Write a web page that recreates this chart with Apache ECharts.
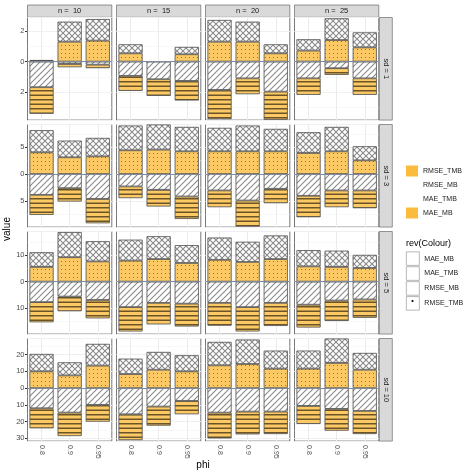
<!DOCTYPE html>
<html>
<head>
<meta charset="utf-8">
<script src="https://cdn.jsdelivr.net/npm/echarts@6/dist/echarts.min.js"></script>
<style>
  html, body { margin: 0; padding: 0; background: #fff; }
  #main { width: 474px; height: 474px; }
</style>
</head>
<body>
<div id="main"></div>
<script>
// facets and categories
var phiLabels = ['0.8', '0.9', '0.95'];
var nLabels = ['n =  10', 'n =  15', 'n =  20', 'n =  25'];
var sdLabels = ['sd = 1', 'sd = 3', 'sd = 5', 'sd = 10'];

// values per [sd row][n column] -> [phi 0.8, 0.9, 0.95], segment heights
var rmseTMB = [
    [[0.05, 1.30, 1.37], [0.54, 0, 0.48], [1.30, 1.30, 0.54], [0.72, 1.41, 0.93]],
    [[4.06, 3.13, 3.31], [4.44, 4.56, 4.25], [4.25, 4.25, 4.25], [3.94, 4.25, 2.56]],
    [[5.6, 9.3, 7.7], [8.0, 8.6, 7.1], [8.3, 7.5, 8.6], [5.8, 5.6, 5.2]],
    [[10.0, 7.6, 13.4], [8.4, 11.0, 10.0], [13.6, 14.4, 11.6], [11.6, 15.0, 11.0]]
];
var rmseMB = [
    [[0.05, 1.31, 1.41], [0.59, 0, 0.48], [1.42, 1.31, 0.59], [0.74, 1.42, 0.98]],
    [[4.13, 3.12, 3.44], [4.62, 4.69, 4.56], [4.38, 4.81, 4.19], [3.87, 4.56, 2.63]],
    [[5.6, 9.6, 7.7], [8.0, 8.7, 6.8], [8.5, 7.7, 9.0], [6.2, 6.2, 5.0]],
    [[10.4, 7.8, 13.0], [9.2, 10.6, 9.6], [14.0, 14.6, 10.8], [10.8, 14.6, 10.0]]
];
var maeTMB = [
    [[1.67, 0.15, 0.20], [0.93, 1.15, 1.26], [1.85, 1.09, 1.96], [1.09, 0.43, 1.09]],
    [[3.88, 2.63, 4.63], [2.31, 2.94, 4.19], [3.06, 4.94, 2.75], [4.06, 3.06, 3.06]],
    [[7.8, 5.7, 7.0], [9.7, 8.1, 8.4], [8.1, 9.7, 8.1], [8.8, 7.2, 6.8]],
    [[12.0, 14.6, 10.0], [15.6, 11.0, 7.6], [14.6, 14.0, 14.0], [10.6, 12.4, 13.6]]
];
var maeMB = [
    [[1.74, 0.22, 0.23], [0.98, 1.09, 1.28], [1.91, 1.04, 1.84], [1.08, 0.44, 1.08]],
    [[3.75, 2.50, 4.56], [2.19, 3.12, 4.19], [3.13, 4.87, 2.69], [4.00, 3.13, 3.32]],
    [[7.7, 5.6, 7.0], [9.3, 8.2, 8.7], [8.7, 9.3, 8.8], [8.7, 7.8, 7.0]],
    [[12.0, 14.0, 10.0], [15.4, 11.4, 8.0], [15.4, 13.6, 13.4], [10.8, 13.0, 13.8]]
];

// y scale per sd row
var yMin = [-3.82, -9.9, -20.0, -31.6];
var yMax = [2.88, 9.25, 19.1, 29.6];
var yMajor = [2, 5, 10, 10];
var yMinor = [1, 2.5, 5, 5];

var FONT = 'Liberation Sans, Arial, sans-serif';

function makePattern(w, h, draw) {
    var c = document.createElement('canvas');
    c.width = w;
    c.height = h;
    draw(c.getContext('2d'), w, h);
    return { image: c, repeat: 'repeat' };
}

var orange = '#FCC964';
var patDots = makePattern(4, 4, function (ctx) {
    ctx.fillStyle = orange; ctx.fillRect(0, 0, 4, 4);
    ctx.fillStyle = '#85764f'; ctx.fillRect(1, 1, 1, 1);
});
var patCross = makePattern(6, 6, function (ctx) {
    ctx.fillStyle = '#fff'; ctx.fillRect(0, 0, 6, 6);
    ctx.strokeStyle = '#8a8a8a'; ctx.lineWidth = 1.1;
    ctx.beginPath();
    ctx.moveTo(-1, -1); ctx.lineTo(7, 7);
    ctx.moveTo(-1, 7); ctx.lineTo(7, -1);
    ctx.stroke();
});
var patDiag = makePattern(6, 6, function (ctx) {
    ctx.fillStyle = '#fff'; ctx.fillRect(0, 0, 6, 6);
    ctx.strokeStyle = '#8a8a8a'; ctx.lineWidth = 1.1;
    ctx.beginPath();
    ctx.moveTo(-1, 7); ctx.lineTo(7, -1);
    ctx.moveTo(-4, 4); ctx.lineTo(4, -4);
    ctx.moveTo(2, 10); ctx.lineTo(10, 2);
    ctx.stroke();
});
var patStripes = makePattern(4, 9, function (ctx) {
    ctx.fillStyle = orange; ctx.fillRect(0, 0, 4, 9);
    ctx.fillStyle = '#6a5428';
    ctx.fillRect(0, 0, 4, 1.5);
    ctx.fillRect(0, 4.5, 4, 1.5);
});

var measures = [
    { name: 'RMSE_TMB', values: rmseTMB, sign: 1, fill: patDots },
    { name: 'RMSE_MB', values: rmseMB, sign: 1, fill: patCross },
    { name: 'MAE_TMB', values: maeTMB, sign: -1, fill: patDiag },
    { name: 'MAE_MB', values: maeMB, sign: -1, fill: patStripes }
];

var colLeft = [27.5, 116.5, 205.5, 294.5];
var rowTop = [17.5, 124.5, 231.5, 338.5];
var panelW = 84.3, panelH = 102.6;

var grids = [], xAxes = [], yAxes = [], series = [], graphics = [];

function majorLabel(m) {
    return function (v) {
        var k = Math.round(v / m) * m;
        return Math.abs(k - v) < 1e-6 ? String(Math.abs(k)) : '';
    };
}

for (var r = 0; r < 4; r++) {
    for (var c = 0; c < 4; c++) {
        var g = r * 4 + c;
        grids.push({
            left: colLeft[c], top: rowTop[r], width: panelW, height: panelH,
            show: true, borderColor: '#555', borderWidth: 0.8, backgroundColor: '#fff'
        });
        var bottomRow = r === 3;
        xAxes.push({
            type: 'category', gridIndex: g, data: phiLabels,
            axisLine: { show: false },
            axisTick: { show: bottomRow, alignWithLabel: true, length: 2.5, lineStyle: { color: '#333' } },
            axisLabel: { show: bottomRow, rotate: -90, fontSize: 7, color: '#4d4d4d', margin: 4, fontFamily: FONT },
            // grid lines at category centres
            splitLine: { show: true, alignWithLabel: true, lineStyle: { color: '#EBEBEB', width: 1 } }
        });
        var leftCol = c === 0;
        yAxes.push({
            type: 'value', gridIndex: g, min: yMin[r], max: yMax[r],
            minInterval: yMajor[r], maxInterval: yMajor[r],
            axisLine: { show: false },
            axisTick: { show: leftCol, length: 2.5, lineStyle: { color: '#333' } },
            axisLabel: {
                show: leftCol, fontSize: 7.5, color: '#4d4d4d', margin: 3, fontFamily: FONT,
                showMinLabel: false, showMaxLabel: false,
                formatter: majorLabel(yMajor[r])
            },
            splitLine: { show: true, lineStyle: { color: '#EBEBEB', width: 1 } }
        });
        // minor grid lines
        yAxes.push({
            type: 'value', gridIndex: g, min: yMin[r], max: yMax[r], position: 'left', offset: 0,
            minInterval: yMinor[r], maxInterval: yMinor[r],
            axisLine: { show: false }, axisTick: { show: false }, axisLabel: { show: false },
            splitLine: { show: true, lineStyle: { color: '#F4F4F4', width: 0.6 } }
        });

        measures.forEach(function (m, i) {
            var s = {
                name: m.name, type: 'bar', stack: 'st' + g,
                xAxisIndex: g, yAxisIndex: 2 * g,
                barWidth: '86%',
                itemStyle: { color: m.fill, borderColor: '#4d4d4d', borderWidth: 0.8 },
                emphasis: { disabled: true },
                data: m.values[r][c].map(function (v) { return m.sign * v; })
            };
            if (i === 0) {
                s.markLine = {
                    silent: true, symbol: 'none', label: { show: false },
                    lineStyle: { color: '#7F8A9B', width: 1, type: 'solid' },
                    data: [{ yAxis: 0 }]
                };
            }
            series.push(s);
        });
    }
}

// strips
nLabels.forEach(function (t, c) {
    graphics.push({
        type: 'rect', shape: { x: colLeft[c], y: 5, width: panelW, height: 12.3 },
        style: { fill: '#D9D9D9', stroke: '#555', lineWidth: 0.6 }
    });
    graphics.push({
        type: 'text', x: colLeft[c] + panelW / 2, y: 11.3,
        style: { text: t, fill: '#1a1a1a', fontSize: 7.5, fontFamily: FONT, align: 'center', verticalAlign: 'middle' }
    });
});
sdLabels.forEach(function (t, r) {
    graphics.push({
        type: 'rect', shape: { x: 379.3, y: rowTop[r], width: 13, height: panelH },
        style: { fill: '#D9D9D9', stroke: '#555', lineWidth: 0.6 }
    });
    graphics.push({
        type: 'text', x: 385.8, y: rowTop[r] + panelH / 2, rotation: -Math.PI / 2,
        style: { text: t, fill: '#1a1a1a', fontSize: 7.5, fontFamily: FONT, align: 'center', verticalAlign: 'middle' }
    });
});
graphics.push({
    type: 'text', x: 7, y: 229, rotation: Math.PI / 2,
    style: { text: 'value', fill: '#000', fontSize: 10, fontFamily: FONT, align: 'center', verticalAlign: 'middle' }
});
graphics.push({
    type: 'text', x: 203, y: 465,
    style: { text: 'phi', fill: '#000', fontSize: 10, fontFamily: FONT, align: 'center', verticalAlign: 'middle' }
});
graphics.push({
    type: 'text', x: 406, y: 243.5,
    style: { text: 'rev(Colour)', fill: '#000', fontSize: 9, fontFamily: FONT, align: 'left', verticalAlign: 'middle' }
});
// dot inside the last key of the second legend
graphics.push({
    type: 'circle', z: 100, shape: { cx: 412.5, cy: 301, r: 1.1 },
    style: { fill: '#000' }
});

var legendText = { fontSize: 7, color: '#1a1a1a', fontFamily: FONT };
var blank = { color: 'rgba(0,0,0,0)', borderWidth: 0 };
var boxStyle = { color: '#fff', borderColor: '#999', borderWidth: 0.7 };

var option = {
    animation: false,
    backgroundColor: '#fff',
    grid: grids,
    xAxis: xAxes,
    yAxis: yAxes,
    series: series,
    graphic: graphics,
    legend: [{
        orient: 'vertical', left: 406, top: 165.5, itemWidth: 12, itemHeight: 11, itemGap: 3,
        selectedMode: false, textStyle: legendText, padding: 0,
        data: [
            { name: 'RMSE_TMB', icon: 'rect', itemStyle: { color: '#FBBC3D', borderWidth: 0 } },
            { name: 'RMSE_MB', icon: 'rect', itemStyle: blank },
            { name: 'MAE_TMB', icon: 'rect', itemStyle: blank },
            { name: 'MAE_MB', icon: 'rect', itemStyle: { color: '#FBBC3D', borderWidth: 0 } }
        ]
    }, {
        orient: 'vertical', left: 406, top: 251.5, itemWidth: 13, itemHeight: 13.6, itemGap: 0.6,
        selectedMode: false, textStyle: legendText, padding: 0,
        data: [
            { name: 'MAE_MB', icon: 'rect', itemStyle: boxStyle },
            { name: 'MAE_TMB', icon: 'rect', itemStyle: boxStyle },
            { name: 'RMSE_MB', icon: 'rect', itemStyle: boxStyle },
            { name: 'RMSE_TMB', icon: 'rect', itemStyle: boxStyle }
        ]
    }]
};

var chart = echarts.init(document.getElementById('main'));
chart.setOption(option);
</script>
</body>
</html>
